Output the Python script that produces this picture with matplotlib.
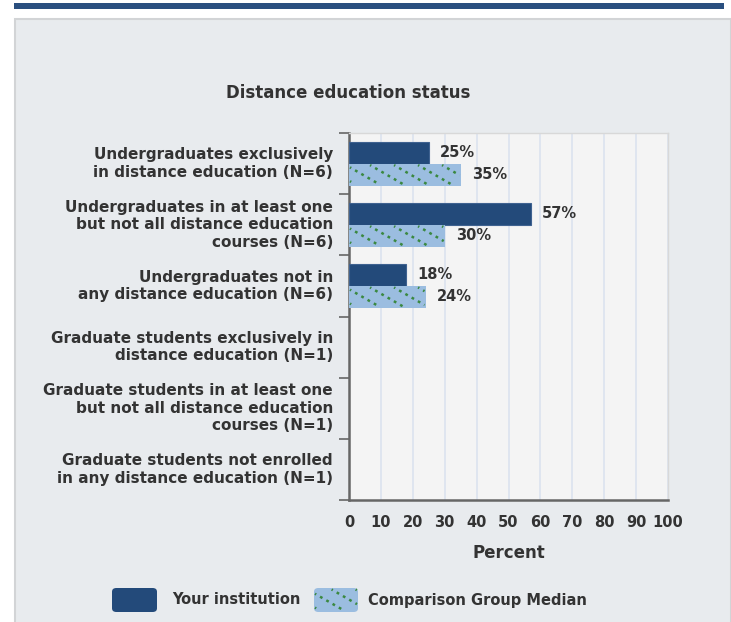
import numpy as np
import matplotlib
matplotlib.use('Agg')
import matplotlib.pyplot as plt
from matplotlib.patches import Rectangle, FancyBboxPatch
from matplotlib.lines import Line2D
from matplotlib.transforms import IdentityTransform

# data
categories = ['Undergraduates exclusively\nin distance education (N=6)',
              'Undergraduates in at least one\nbut not all distance education\ncourses (N=6)',
              'Undergraduates not in\nany distance education (N=6)',
              'Graduate students exclusively in\ndistance education (N=1)',
              'Graduate students in at least one\nbut not all distance education\ncourses (N=1)',
              'Graduate students not enrolled\nin any distance education (N=1)']
your_inst = [25, 57, 18, None, None, None]
comp_median = [35, 30, 24, None, None, None]
x_ticks = [0, 10, 20, 30, 40, 50, 60, 70, 80, 90, 100]

dark = '#234a7a'
light = '#9bbde0'
hatch_col = '#3a8840'
txt = '#333333'

plt.rcParams['font.family'] = 'DejaVu Sans'
plt.rcParams['lines.scale_dashes'] = False

W, H = 731, 622
fig = plt.figure(figsize=(W / 100, H / 100), dpi=100)


# page decorations (pixel coords), kept behind the axes
def px_rect(x0, y0, x1, y1, **kw):
    fig.patches.append(Rectangle((x0 / W, 1 - y1 / H), (x1 - x0) / W, (y1 - y0) / H,
                                 transform=fig.transFigure, zorder=-5, **kw))


# dotted diagonal stripes inside a patch's box (the "hatch" of the median bars)
def dotted_stripes(owner, patch, step=24, angle=30):
    bb = patch.get_window_extent()
    x0, x1 = bb.x0 + 1, bb.x1 - 1
    y0, y1 = bb.y0 + 1.5, bb.y1 - 1.5
    slope = np.tan(np.radians(angle))
    run = (y1 - y0) / slope
    for xs in np.arange(x0 - run + 5, x1, step):
        lo, hi = max(x0, xs), min(x1, xs + run)
        if hi - lo < 1:
            continue
        ln = Line2D([lo, hi], [y1 - slope * (lo - xs), y1 - slope * (hi - xs)],
                    transform=IdentityTransform(), color=hatch_col, linewidth=1.8,
                    linestyle=(1, (2.0, 3.2)), zorder=5)
        owner.add_artist(ln)


px_rect(14, 3, 724, 9, facecolor='#2a4f7f', edgecolor='none')
px_rect(15, 19, 731, 640, facecolor='#e8ebee', edgecolor='#d2d4d6', linewidth=1.5)

ax = fig.add_axes([349 / W, 1 - 500 / H, (668 - 349) / W, (500 - 133) / H])
ax.set_facecolor('#f4f4f4')

n = len(categories)
centers = np.arange(n) + 0.5
bh = 0.36
off = 0.18

ax.set_xlim(0, 100)
ax.set_ylim(n, 0)

for i, (a, b) in enumerate(zip(your_inst, comp_median)):
    if a is not None:
        ax.barh(centers[i] - off, a, height=bh, color=dark, edgecolor='#3f6290', linewidth=0.8, zorder=3)
        ax.text(a + 3.5, centers[i] - off, f'{a}%', va='center', ha='left',
                fontsize=10.5, fontweight='bold', color=txt)
    if b is not None:
        bars = ax.barh(centers[i] + off, b, height=bh, color=light, edgecolor='none', zorder=3)
        dotted_stripes(ax, bars[0])
        ax.text(b + 3.5, centers[i] + off, f'{b}%', va='center', ha='left',
                fontsize=10.5, fontweight='bold', color=txt)

ax.set_xticks(x_ticks)
ax.set_xticklabels([str(t) for t in x_ticks], fontsize=10.5, fontweight='bold', color=txt)
ax.tick_params(axis='x', length=0, pad=11)
ax.xaxis.grid(True, color='#dbe3ee', linewidth=1.2, zorder=0)
ax.set_axisbelow(True)

ax.set_yticks(np.arange(n + 1))
ax.set_yticklabels([])
ax.tick_params(axis='y', length=7, width=1.2, color='#666666')
for i, lab in enumerate(categories):
    ax.text(-0.05, centers[i], lab, transform=ax.get_yaxis_transform(), ha='right', va='center',
            fontsize=11, fontweight='bold', color=txt, linespacing=1.19)

for s in ['top', 'right']:
    ax.spines[s].set_color('#d8d8d8')
    ax.spines[s].set_linewidth(1)
for s in ['left', 'bottom']:
    ax.spines[s].set_color('#666666')
    ax.spines[s].set_linewidth(1.8)

ax.set_xlabel('Percent', fontsize=12, fontweight='bold', color=txt, labelpad=10)
fig.text(348 / W, 1 - 93 / H, 'Distance education status', ha='center', va='center',
         fontsize=12, fontweight='bold', color=txt)

# legend
leg1 = FancyBboxPatch((112 / W, 1 - 612 / H), 45 / W, 24 / H,
                      boxstyle='round,pad=0,rounding_size=0.006',
                      transform=fig.transFigure, facecolor=dark, edgecolor='none')
fig.patches.append(leg1)
fig.text(172 / W, 1 - 600 / H, 'Your institution', ha='left', va='center',
         fontsize=10.5, fontweight='bold', color=txt)
leg2 = FancyBboxPatch((314 / W, 1 - 612 / H), 44 / W, 24 / H,
                      boxstyle='round,pad=0,rounding_size=0.006',
                      transform=fig.transFigure, facecolor=light, edgecolor='none')
fig.patches.append(leg2)
dotted_stripes(fig, leg2)
fig.text(368 / W, 1 - 600 / H, 'Comparison Group Median', ha='left', va='center',
         fontsize=10.5, fontweight='bold', color=txt)

fig.savefig('out.png', dpi=100)
